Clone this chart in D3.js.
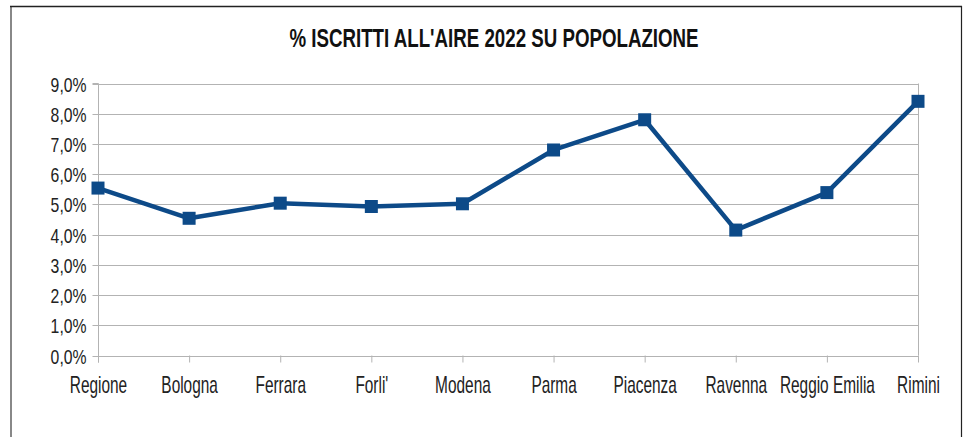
<!DOCTYPE html>
<html><head><meta charset="utf-8">
<script src="https://cdn.jsdelivr.net/npm/d3@7"></script>
<style>body{margin:0;background:#fff}svg{display:block}</style>
</head><body><svg id="c" width="966" height="437"></svg>
<script>
const categories = ["Regione","Bologna","Ferrara","Forli'","Modena","Parma","Piacenza","Ravenna","Reggio Emilia","Rimini"];
const values = [5.54, 4.54, 5.04, 4.93, 5.02, 6.8, 7.8, 4.15, 5.39, 8.41];
const yTicks = [0,1,2,3,4,5,6,7,8,9];
const title = "% ISCRITTI ALL'AIRE 2022 SU POPOLAZIONE";

const svg = d3.select("#c");
const font = "'Liberation Sans',Arial,sans-serif";
const L = 98, R = 918, T = 83.5, B = 355.5;

// frame
svg.append("line").attr("x1",11).attr("x2",11).attr("y1",6).attr("y2",437).attr("stroke","#888").attr("stroke-width",2);
svg.append("line").attr("x1",10).attr("x2",962).attr("y1",6.5).attr("y2",6.5).attr("stroke","#222").attr("stroke-width",1.5);
svg.append("line").attr("x1",961.5).attr("x2",961.5).attr("y1",6).attr("y2",437).attr("stroke","#222").attr("stroke-width",1.2);

const x = d3.scalePoint().domain(categories).range([L, R]);
const y = d3.scaleLinear().domain([0, 9]).range([B, T]);

svg.append("text").attr("x", 0).attr("y", 0).attr("text-anchor","middle")
  .attr("transform","translate(494,47) scale(0.72,1)")
  .attr("font-family", font).attr("font-weight","bold").attr("font-size", 26).attr("fill","#111").text(title);

// grid
svg.append("g").selectAll("line").data(yTicks).join("line")
  .attr("x1", L).attr("x2", R).attr("y1", d=>Math.round(y(d))+0.5).attr("y2", d=>Math.round(y(d))+0.5)
  .attr("stroke","#b3b3b3").attr("stroke-width",1);
svg.append("line").attr("x1",R+0.5).attr("x2",R+0.5).attr("y1",T).attr("y2",B).attr("stroke","#b3b3b3");

// y axis
const fmt = d => d.toFixed(1).replace(".", ",") + "%";
const ya = svg.append("g").attr("transform", `translate(${L+0.5},0)`)
  .call(d3.axisLeft(y).tickValues(yTicks).tickFormat(fmt).tickSize(6).tickPadding(6));
ya.select(".domain").attr("stroke","#b3b3b3").attr("d", `M-6,${T}H0V${B+7}`);
ya.selectAll(".tick line").attr("stroke","#b3b3b3");
ya.selectAll(".tick text").attr("font-family", font).attr("font-size", 21).attr("fill","#222")
  .attr("x", 0).attr("dy","0.36em").attr("transform","translate(-12,0) scale(0.75,1)");
ya.selectAll(".tick").attr("transform", d => `translate(0,${Math.round(y(d))+0.5})`);

// x axis
const xa = svg.append("g").attr("transform", `translate(0,${B})`)
  .call(d3.axisBottom(x).tickSize(7).tickPadding(12));
xa.select(".domain").remove();
xa.selectAll(".tick line").attr("stroke","#b3b3b3");
xa.selectAll(".tick text").attr("font-family", font).attr("font-size", 23).attr("fill","#222")
  .attr("y", 38).attr("dy", 0).attr("transform","scale(0.67,1)");

// line
const pts = categories.map((c,i)=>[x(c), y(values[i])]);
svg.append("path").attr("d", d3.line()(pts)).attr("fill","none")
  .attr("stroke","#0d4a88").attr("stroke-width",4.5).attr("stroke-linejoin","round");
svg.append("g").selectAll("rect").data(pts).join("rect")
  .attr("x", d=>d[0]-6.5).attr("y", d=>d[1]-6.5).attr("width",13).attr("height",13)
  .attr("fill","#0d4a88");
</script></body></html>
